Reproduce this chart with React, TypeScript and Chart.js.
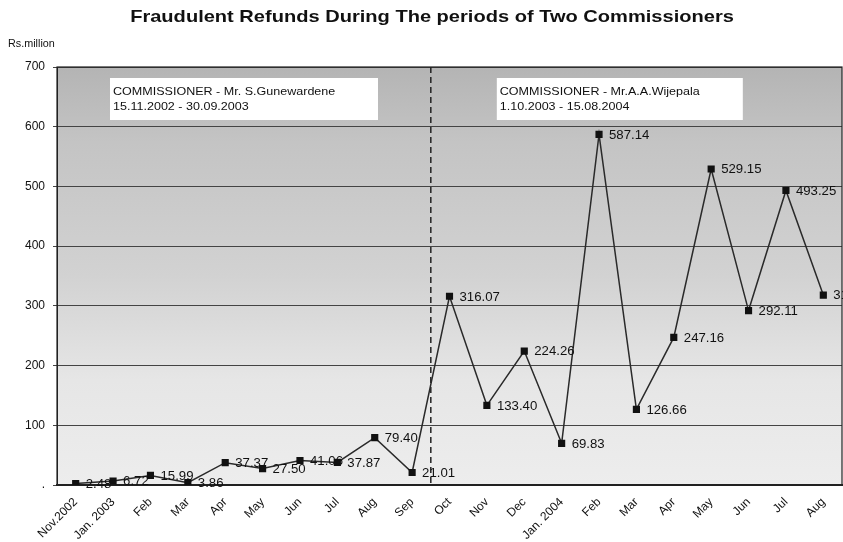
import React, { useEffect, useRef } from "react";
import { Chart, registerables } from "chart.js";

Chart.register(...registerables);

const categories = [
  "Nov.2002", "Jan. 2003", "Feb", "Mar", "Apr", "May", "Jun", "Jul", "Aug", "Sep",
  "Oct", "Nov", "Dec", "Jan. 2004", "Feb", "Mar", "Apr", "May", "Jun", "Jul", "Aug",
];
const refunds = [
  2.48, 6.72, 15.99, 3.86, 37.37, 27.5, 41.06, 37.87, 79.4, 21.01,
  316.07, 133.4, 224.26, 69.83, 587.14, 126.66, 247.16, 529.15, 292.11, 493.25, 318.03,
];
const yTicks = [0, 100, 200, 300, 400, 500, 600, 700];
const titleText = "Fraudulent Refunds During The periods of Two Commissioners";
const unitText = "Rs.million";
const commissioner1 = ["COMMISSIONER - Mr. S.Gunewardene", "15.11.2002 - 30.09.2003"];
const commissioner2 = ["COMMISSIONER - Mr.A.A.Wijepala", "1.10.2003 - 15.08.2004"];
const splitAfterIndex = 9;

const FONT = "'Liberation Sans', Arial, sans-serif";

function stretchedText(ctx: any, text: string, x: number, y: number, sx: number, align: string) {
  ctx.save();
  ctx.translate(x, y);
  ctx.scale(sx, 1);
  ctx.textAlign = align;
  ctx.fillText(text, 0, 0);
  ctx.restore();
}

const bgPlugin = {
  id: "bgTexture",
  beforeDraw(chart: any) {
    const { ctx, chartArea } = chart;
    if (!chartArea) return;
    const { left, top, right, bottom } = chartArea;
    ctx.save();
    const g = ctx.createLinearGradient(0, top, 0, bottom);
    g.addColorStop(0, "#b4b4b4");
    g.addColorStop(0.18, "#c4c4c4");
    g.addColorStop(0.5, "#d2d2d2");
    g.addColorStop(0.75, "#e6e6e6");
    g.addColorStop(1, "#ededed");
    ctx.fillStyle = g;
    ctx.fillRect(left, top, right - left, bottom - top);
    ctx.restore();

    ctx.save();
    ctx.fillStyle = "#111";
    ctx.textBaseline = "middle";
    ctx.font = `bold 17px ${FONT}`;
    stretchedText(ctx, titleText, 432, 17, 1.18, "center");
    ctx.font = `10px ${FONT}`;
    stretchedText(ctx, unitText, 8, 44, 1.08, "left");
    ctx.restore();
  },
};

const overlayPlugin = {
  id: "overlay",
  beforeDatasetsDraw(chart: any) {
    const { ctx, chartArea, scales } = chart;
    const { left, top, right, bottom } = chartArea;
    const x = scales.x;
    ctx.save();
    const xd = (x.getPixelForValue(splitAfterIndex) + x.getPixelForValue(splitAfterIndex + 1)) / 2;
    ctx.strokeStyle = "#222";
    ctx.lineWidth = 1.5;
    ctx.setLineDash([6, 4]);
    ctx.beginPath();
    ctx.moveTo(xd, top);
    ctx.lineTo(xd, bottom);
    ctx.stroke();
    ctx.setLineDash([]);

    const drawBox = (bx: number, by: number, bw: number, bh: number, lines: string[]) => {
      ctx.fillStyle = "#ffffff";
      ctx.fillRect(bx, by, bw, bh);
      ctx.fillStyle = "#111";
      ctx.font = `11px ${FONT}`;
      ctx.textBaseline = "middle";
      stretchedText(ctx, lines[0], bx + 3, by + 14, 1.14, "left");
      stretchedText(ctx, lines[1], bx + 3, by + 29, 1.14, "left");
    };
    drawBox(left + 53, top + 11, 268, 42, commissioner1);
    drawBox(xd + 66, top + 11, 246, 42, commissioner2);

    ctx.strokeStyle = "#222";
    ctx.lineWidth = 1.2;
    ctx.strokeRect(left, top, right - left, bottom - top);
    ctx.restore();
  },
  afterDatasetsDraw(chart: any) {
    const { ctx } = chart;
    const meta = chart.getDatasetMeta(0);
    ctx.save();
    ctx.fillStyle = "#111";
    ctx.font = `12px ${FONT}`;
    ctx.textBaseline = "middle";
    meta.data.forEach((pt: any, i: number) => {
      stretchedText(ctx, refunds[i].toFixed(2), pt.x + 10, pt.y + 1, 1.1, "left");
    });
    ctx.restore();
  },
};

export default function App() {
  const ref = useRef<HTMLCanvasElement | null>(null);
  useEffect(() => {
    document.body.style.margin = "0";
    const canvas = ref.current!;
    const chart = new Chart(canvas, {
      type: "line",
      data: {
        labels: categories,
        datasets: [
          {
            data: refunds,
            borderColor: "#2a2a2a",
            borderWidth: 1.5,
            backgroundColor: "#111",
            pointStyle: "rect",
            pointRadius: 4,
            pointBorderColor: "#111",
            pointBackgroundColor: "#111",
            tension: 0,
            fill: false,
          },
        ],
      },
      options: {
        animation: false,
        responsive: false,
        maintainAspectRatio: false,
        layout: { autoPadding: false, padding: { left: 0, right: 1, top: 67, bottom: 0 } },
        plugins: {
          legend: { display: false },
          tooltip: { enabled: false },
          title: { display: false },
        },
        scales: {
          x: {
            type: "category",
            offset: true,
            grid: { display: false, drawTicks: false },
            border: { display: true, color: "#222", width: 2 },
            ticks: {
              color: "#111",
              font: { family: FONT, size: 12 },
              minRotation: 45,
              maxRotation: 45,
              autoSkip: false,
              padding: 10,
            },
            afterFit(scale: any) {
              scale.height = 57;
              scale.paddingLeft = 0;
              scale.paddingRight = 0;
            },
          },
          y: {
            min: 0,
            max: 700,
            afterBuildTicks(axis: any) {
              axis.ticks = yTicks.map((v) => ({ value: v }));
            },
            afterFit(scale: any) {
              scale.width = 57;
            },
            grid: { color: "#444", lineWidth: 1, drawTicks: true, tickLength: 4 },
            border: { display: true, color: "#222" },
            ticks: {
              color: "#111",
              font: { family: FONT, size: 12 },
              padding: 8,
              callback: (v: any) => (v === 0 ? "." : String(v)),
            },
          },
        },
      },
      plugins: [bgPlugin, overlayPlugin],
    });
    return () => chart.destroy();
  }, []);
  return <canvas ref={ref} width={843} height={542} style={{ display: "block" }} />;
}
